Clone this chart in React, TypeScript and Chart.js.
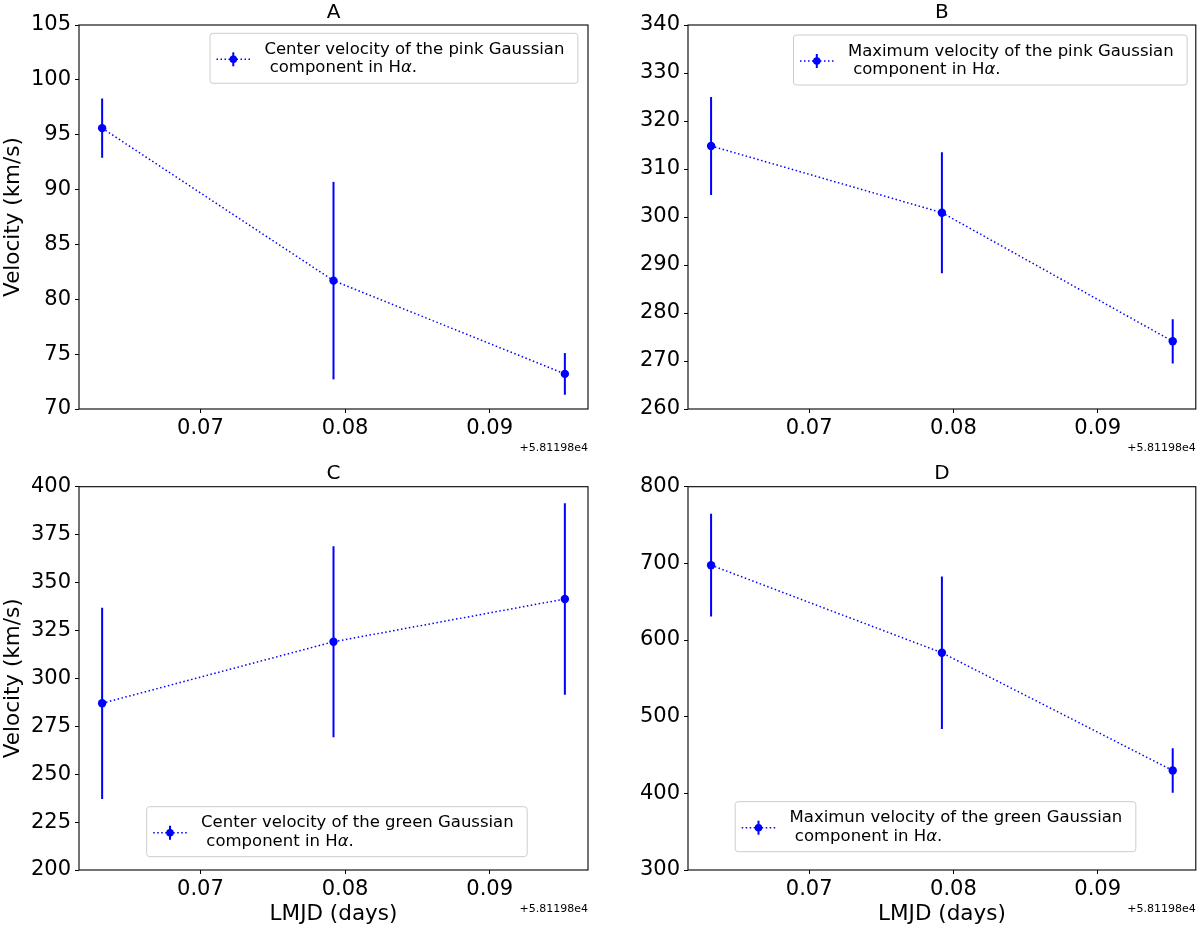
import { useEffect, useRef } from "react"
import { Chart, registerables } from "chart.js"
import type { Plugin } from "chart.js"

Chart.register(...registerables)

// LMJD - 58119.8 (the axis offset shown as +5.81198e4)
const lmjd = [0.0632, 0.0792, 0.0952]
const xTicks = [0.07, 0.08, 0.09]
const OFFSET_TEXT = "+5.81198e4"

// A: center velocity, pink Gaussian
const pinkCenter = [95.6, 81.7, 73.2]
const pinkCenterErr = [2.7, 9.0, 1.9]
const yTicksA = [70, 75, 80, 85, 90, 95, 100, 105]

// B: maximum velocity, pink Gaussian
const pinkMax = [314.8, 300.9, 274.1]
const pinkMaxErr = [10.2, 12.6, 4.6]
const yTicksB = [260, 270, 280, 290, 300, 310, 320, 330, 340]

// C: center velocity, green Gaussian
const greenCenter = [287.0, 319.1, 341.4]
const greenCenterErr = [49.9, 49.8, 50.0]
const yTicksC = [200, 225, 250, 275, 300, 325, 350, 375, 400]

// D: maximum velocity, green Gaussian
const greenMax = [697.6, 583.4, 429.8]
const greenMaxErr = [67.0, 99.6, 29.0]
const yTicksD = [300, 400, 500, 600, 700, 800]

const legendA = ["Center velocity of the pink Gaussian", " component in Hα."]
const legendB = ["Maximum velocity of the pink Gaussian", " component in Hα."]
const legendC = ["Center velocity of the green Gaussian", " component in Hα."]
const legendD = ["Maximun velocity of the green Gaussian", " component in Hα."]

const FONT = "'DejaVu Sans', sans-serif"
const BLUE = "#0000ff"
const LEGEND_SIZE = 16.5

// draw text, with α in italic like matplotlib mathtext
function richText(ctx: CanvasRenderingContext2D, text: string, x: number, y: number, draw: boolean) {
  let cx = x
  for (const part of text.split(/(α)/)) {
    if (!part) continue
    ctx.font = part === "α" ? `italic ${LEGEND_SIZE}px ${FONT}` : `${LEGEND_SIZE}px ${FONT}`
    if (draw) ctx.fillText(part, cx, y)
    cx += ctx.measureText(part).width
  }
  return cx - x
}

interface PanelProps {
  left: number
  top: number
  width: number
  height: number
  title: string
  values: number[]
  errors: number[]
  yTicks: number[]
  legend: string[]
  legendAt: [number, number]
  axisWidth: number
  axisHeight: number
  titlePad: { top: number; bottom: number }
  padRight: number
  yLabel: boolean
  xLabel: boolean
}

function Panel(props: PanelProps) {
  const chartRef = useRef<HTMLCanvasElement>(null)
  const chartInstance = useRef<Chart | null>(null)

  useEffect(() => {
    if (!chartRef.current) return
    if (chartInstance.current) chartInstance.current.destroy()
    const ctx = chartRef.current.getContext("2d")
    if (!ctx) return

    const { values, errors, yTicks, legend, legendAt } = props
    const span = lmjd[lmjd.length - 1] - lmjd[0]

    // axes frame, offset text and legend
    const extras: Plugin<"line"> = {
      id: "extras",
      afterDraw(chart) {
        const c = chart.ctx
        const a = chart.chartArea
        c.save()
        c.strokeStyle = "#000"
        c.lineWidth = 1.1
        c.strokeRect(a.left, a.top, a.right - a.left, a.bottom - a.top)

        c.fillStyle = "#000"
        c.font = `11px ${FONT}`
        c.textAlign = "right"
        c.textBaseline = "middle"
        c.fillText(OFFSET_TEXT, a.right, a.bottom + 39)

        // legend box
        c.textAlign = "left"
        c.textBaseline = "alphabetic"
        const textW = Math.max(...legend.map((t) => richText(c, t, 0, 0, false)))
        const bx = a.left + legendAt[0]
        const by = a.top + legendAt[1]
        const bw = textW + 54.4 + 13.5
        const bh = 50
        c.beginPath()
        c.roundRect(bx, by, bw, bh, 3)
        c.fillStyle = "rgba(255,255,255,0.8)"
        c.fill()
        c.strokeStyle = "#cccccc"
        c.lineWidth = 1
        c.stroke()

        const my = by + 26
        c.strokeStyle = BLUE
        c.lineWidth = 1.5
        c.setLineDash([1.5, 2.5])
        c.beginPath()
        c.moveTo(bx + 6.5, my)
        c.lineTo(bx + 40, my)
        c.stroke()
        c.setLineDash([])
        c.lineWidth = 2
        c.beginPath()
        c.moveTo(bx + 23.3, my - 7)
        c.lineTo(bx + 23.3, my + 7)
        c.stroke()
        c.fillStyle = BLUE
        c.beginPath()
        c.arc(bx + 23.3, my, 3.8, 0, Math.PI * 2)
        c.fill()

        c.fillStyle = "#000"
        legend.forEach((t, i) => richText(c, t, bx + 54.4, by + 20.7 + i * 18.4, true))
        c.restore()
      },
    }

    const errorSets = lmjd.map((x, i) => ({
      type: "line" as const,
      data: [
        { x, y: values[i] - errors[i] },
        { x, y: values[i] + errors[i] },
      ],
      borderColor: BLUE,
      borderWidth: 2,
      pointRadius: 0,
      order: 1,
    }))

    chartInstance.current = new Chart(ctx, {
      type: "line",
      data: {
        datasets: [
          {
            data: lmjd.map((x, i) => ({ x, y: values[i] })),
            borderColor: BLUE,
            backgroundColor: BLUE,
            borderWidth: 1.5,
            borderDash: [1.5, 2.5],
            pointRadius: 4.2,
            pointBorderWidth: 0,
            pointBackgroundColor: BLUE,
            order: 0,
          },
          ...errorSets,
        ],
      },
      options: {
        animation: false,
        responsive: false,
        layout: { padding: { left: 0, right: props.padRight, top: 0, bottom: 0 } },
        plugins: {
          legend: { display: false },
          tooltip: { enabled: false },
          title: {
            display: true,
            text: props.title,
            fullSize: false,
            color: "#000",
            font: { family: FONT, size: 20, weight: "normal", lineHeight: 1.15 },
            padding: props.titlePad,
          },
        },
        scales: {
          x: {
            type: "linear",
            min: lmjd[0] - 0.05 * span,
            max: lmjd[lmjd.length - 1] + 0.05 * span,
            afterBuildTicks: (s) => {
              s.ticks = xTicks.map((value) => ({ value }))
            },
            afterFit: (s) => {
              s.height = props.axisHeight
            },
            ticks: {
              color: "#000",
              font: { family: FONT, size: 21 },
              padding: 3,
              maxRotation: 0,
              autoSkip: false,
              callback: (v) => Number(v).toFixed(2),
            },
            grid: { drawOnChartArea: false, drawTicks: true, tickLength: 4, tickColor: "#000", tickWidth: 1 },
            border: { display: false },
            title: {
              display: props.xLabel,
              text: "LMJD (days)",
              color: "#000",
              font: { family: FONT, size: 21.5 },
              padding: { top: 0, bottom: 3 },
            },
          },
          y: {
            type: "linear",
            min: yTicks[0],
            max: yTicks[yTicks.length - 1],
            afterBuildTicks: (s) => {
              s.ticks = yTicks.map((value) => ({ value }))
            },
            afterFit: (s) => {
              s.width = props.axisWidth
            },
            ticks: {
              color: "#000",
              font: { family: FONT, size: 21 },
              padding: 4,
              autoSkip: false,
              callback: (v) => String(v),
            },
            grid: { drawOnChartArea: false, drawTicks: true, tickLength: 4, tickColor: "#000", tickWidth: 1 },
            border: { display: false },
            title: {
              display: props.yLabel,
              text: "Velocity (km/s)",
              color: "#000",
              font: { family: FONT, size: 21.5 },
              padding: { top: 1, bottom: 0 },
            },
          },
        },
      },
      plugins: [extras],
    })

    return () => {
      if (chartInstance.current) {
        chartInstance.current.destroy()
        chartInstance.current = null
      }
    }
  }, [props])

  return (
    <canvas
      ref={chartRef}
      width={props.width}
      height={props.height}
      style={{ position: "absolute", left: props.left, top: props.top, width: props.width, height: props.height }}
    />
  )
}

const panels: PanelProps[] = [
  {
    left: 0, top: 0, width: 600, height: 460, title: "A",
    values: pinkCenter, errors: pinkCenterErr, yTicks: yTicksA, legend: legendA, legendAt: [131, 8.3],
    axisWidth: 79, axisHeight: 51, titlePad: { top: 1.5, bottom: 0.5 }, padRight: 12, yLabel: true, xLabel: false,
  },
  {
    left: 600, top: 0, width: 600, height: 460, title: "B",
    values: pinkMax, errors: pinkMaxErr, yTicks: yTicksB, legend: legendB, legendAt: [105.5, 10],
    axisWidth: 88, axisHeight: 51, titlePad: { top: 1.5, bottom: 0.5 }, padRight: 3.5, yLabel: false, xLabel: false,
  },
  {
    left: 0, top: 460, width: 600, height: 470, title: "C",
    values: greenCenter, errors: greenCenterErr, yTicks: yTicksC, legend: legendC, legendAt: [67.7, 320],
    axisWidth: 79, axisHeight: 60, titlePad: { top: 2.5, bottom: 1.2 }, padRight: 12, yLabel: true, xLabel: true,
  },
  {
    left: 600, top: 460, width: 600, height: 470, title: "D",
    values: greenMax, errors: greenMaxErr, yTicks: yTicksD, legend: legendD, legendAt: [47.2, 315],
    axisWidth: 88, axisHeight: 60, titlePad: { top: 2.5, bottom: 1.2 }, padRight: 3.5, yLabel: false, xLabel: true,
  },
]

export default function App() {
  return (
    <div style={{ position: "fixed", left: 0, top: 0, width: 1200, height: 930, background: "#fff" }}>
      {panels.map((p) => (
        <Panel key={p.title} {...p} />
      ))}
    </div>
  )
}
